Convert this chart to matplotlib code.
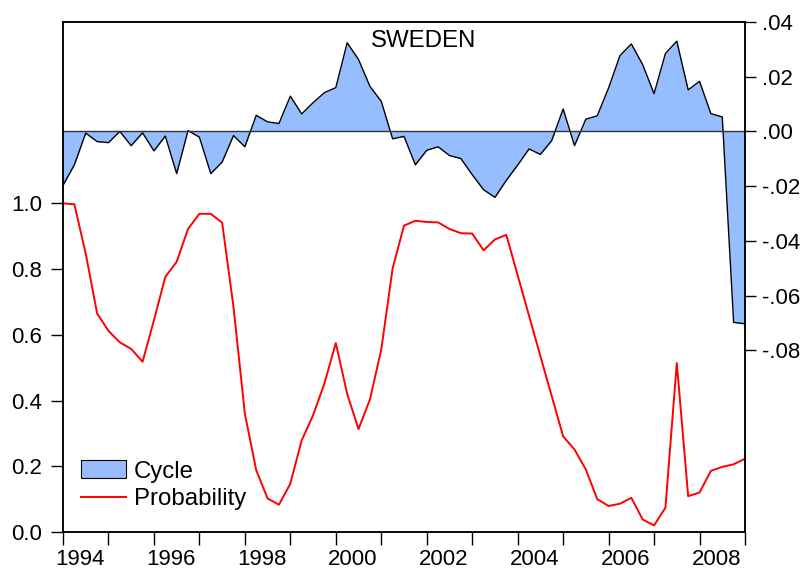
import numpy as np
import matplotlib
matplotlib.use("Agg")
import matplotlib.pyplot as plt
from matplotlib.patches import Patch
from matplotlib.lines import Line2D
from matplotlib.ticker import FixedLocator, FuncFormatter

plt.rcParams['font.family'] = ['Liberation Sans', 'DejaVu Sans']

# quarterly observations, 1994Q1 .. 2009Q1
start_year = 1994
n_obs = 61

cycle = [-0.0197, -0.0122, -0.0006, -0.0037, -0.0041, 0.0000, -0.0052, -0.0005,
         -0.0071, -0.0017, -0.0154, 0.0003, -0.0021, -0.0154, -0.0112, -0.0015,
         -0.0056, 0.0059, 0.0035, 0.0029, 0.0129, 0.0064, 0.0105, 0.0142,
         0.0160, 0.0324, 0.0263, 0.0165, 0.0110, -0.0027, -0.0018, -0.0122,
         -0.0069, -0.0056, -0.0088, -0.0099, -0.0158, -0.0213, -0.0241, -0.0179,
         -0.0123, -0.0064, -0.0084, -0.0033, 0.0082, -0.0052, 0.0045, 0.0057,
         0.0159, 0.0277, 0.0320, 0.0244, 0.0138, 0.0285, 0.0330, 0.0152,
         0.0183, 0.0065, 0.0053, -0.0698, -0.0703]

probability = [1.000, 0.997, 0.847, 0.665, 0.612, 0.577, 0.557, 0.518,
               0.644, 0.776, 0.822, 0.922, 0.968, 0.968, 0.941, 0.685,
               0.360, 0.188, 0.102, 0.083, 0.147, 0.279, 0.355, 0.452,
               0.575, 0.420, 0.313, 0.403, 0.555, 0.802, 0.932, 0.947,
               0.943, 0.942, 0.922, 0.909, 0.908, 0.857, 0.890, 0.904,
               0.781, 0.658, 0.535, 0.413, 0.291, 0.251, 0.190, 0.100,
               0.079, 0.086, 0.104, 0.038, 0.020, 0.074, 0.514, 0.109,
               0.120, 0.186, 0.198, 0.206, 0.223]

year_labels = ['1994', '1996', '1998', '2000', '2002', '2004', '2006', '2008']
left_ticks = [0.0, 0.2, 0.4, 0.6, 0.8, 1.0]
right_ticks = [-0.08, -0.06, -0.04, -0.02, 0.0, 0.02, 0.04]

x = start_year + np.arange(n_obs) / 4.0

fig = plt.figure(figsize=(8.1, 5.74), dpi=100)
W, H = 810, 574
ax = fig.add_axes([63 / W, 1 - 532 / H, (745 - 63) / W, (532 - 22) / H])
ax2 = ax.twinx()

fill_col = '#96BEFF'
ax2.fill_between(x, 0, cycle, color=fill_col, lw=0)
ax2.plot(x, cycle, color='black', lw=1.0)
ax2.axhline(0, color='#333333', lw=1.0)
ax.plot(x, probability, color='red', lw=1.4)

ax.set_zorder(ax2.get_zorder() + 1)
ax.patch.set_visible(False)

ax.set_xlim(x[0], x[-1])
ax.set_ylim(0, 1.5516)
ax2.set_ylim(-0.1464, 0.04)

# x axis: ticks at each year, labels for even years just right of tick
ax.xaxis.set_minor_locator(FixedLocator(np.arange(1994, 2010)))
ax.set_xticks([int(y) + 0.38 for y in year_labels])
ax.set_xticklabels(year_labels, fontsize=16)
ax.tick_params(axis='x', which='major', length=0, pad=12)
ax.tick_params(axis='x', which='minor', length=9, width=1, direction='out')

ax.set_yticks(left_ticks)
ax.yaxis.set_major_formatter(FuncFormatter(lambda v, p: f'{v:.1f}'))
ax.tick_params(axis='y', length=9, width=1, labelsize=16, pad=6)

def dotfmt(v, p):
    s = f'{v:.2f}'
    return s.replace('0.', '.', 1)

ax2.set_yticks(right_ticks)
ax2.yaxis.set_major_formatter(FuncFormatter(dotfmt))
ax2.tick_params(axis='y', length=8, width=1, labelsize=16, pad=4)

for a in (ax, ax2):
    for s in a.spines.values():
        s.set_linewidth(1.1)

ax.text(0.529, 0.985, 'SWEDEN', transform=ax.transAxes, ha='center', va='top',
        fontsize=17.3)

handles = [Patch(facecolor=fill_col, edgecolor='black', lw=0.8),
           Line2D([], [], color='red', lw=1.4)]
ax.legend(handles, ['Cycle', 'Probability'], loc='upper left',
          bbox_to_anchor=(0.027, 0.141), frameon=False, fontsize=17.3,
          handlelength=1.87, handleheight=0.79, handletextpad=0.32,
          labelspacing=0.22, borderpad=0, borderaxespad=0)

fig.savefig('out.png', dpi=100)
